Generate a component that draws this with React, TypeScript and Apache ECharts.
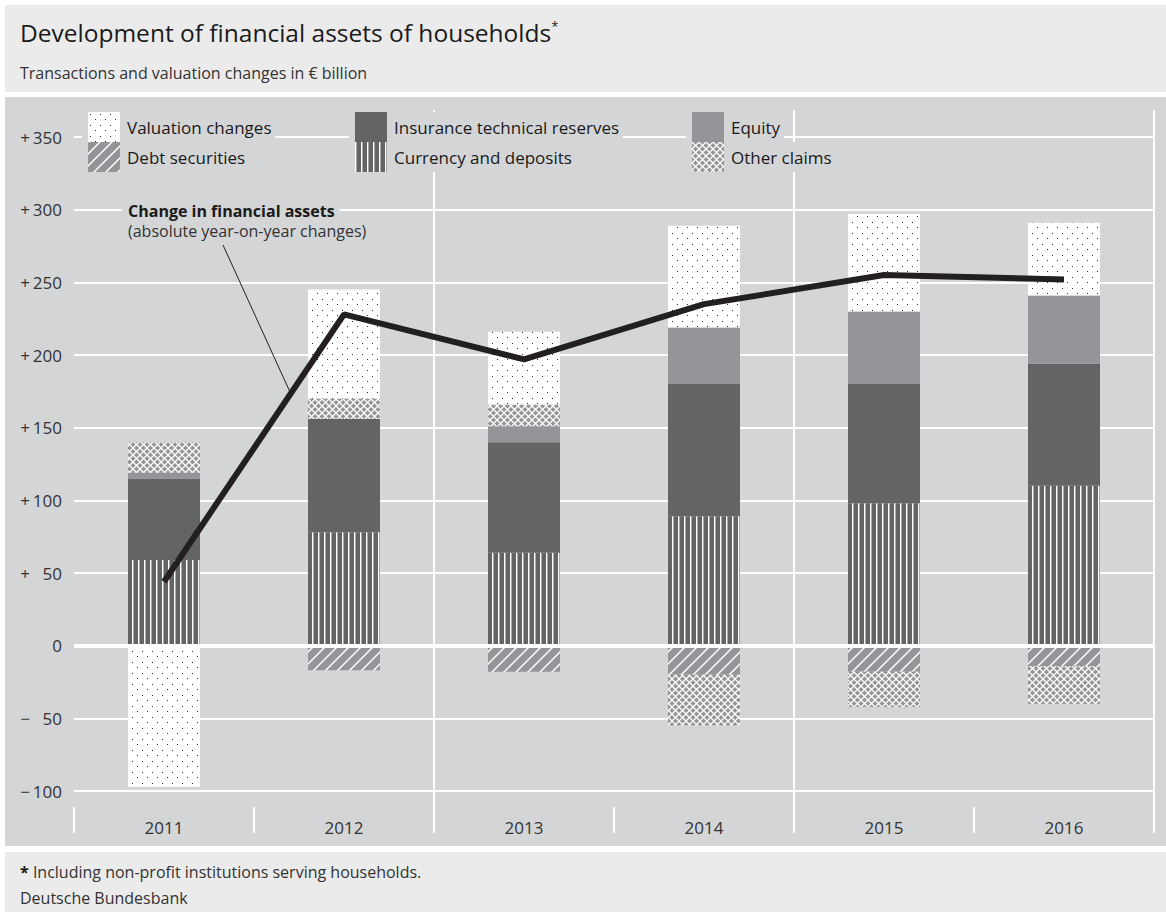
import React, { useEffect, useRef } from 'react';
import * as echarts from 'echarts';

// ---------- data ----------
const years = ['2011', '2012', '2013', '2014', '2015', '2016'];
const currencyDeposits = [59, 78, 64, 89, 98, 110];
const debtSecurities = [0, -17, -18, -20, -18, -14];
const insuranceReserves = [56, 78, 76, 91, 82, 84];
const equity = [4, 0, 11, 39, 50, 47];
const otherClaims = [21, 14, 15, -35, -24, -26];
const valuationChanges = [-97, 75, 50, 70, 67, 50];
const changeInFinancialAssets = [44, 228, 197, 235, 255, 252];
const yMin = -100;
const yMax = 350;
const yInterval = 50;

const FONT = '"Open Sans", "Noto Sans", sans-serif';
const PANEL = '#d4d5d7';
const LIGHT = '#ebebec';
const DARK = '#636466';
const MID = '#949599';

function makePattern(w: number, h: number, draw: (ctx: CanvasRenderingContext2D) => void) {
  const c = document.createElement('canvas');
  c.width = w;
  c.height = h;
  const ctx = c.getContext('2d') as CanvasRenderingContext2D;
  draw(ctx);
  return { image: c, repeat: 'repeat', imageWidth: w, imageHeight: h } as any;
}

function formatY(v: number) {
  if (v === 0) return '0';
  const a = Math.abs(v);
  const sign = v > 0 ? '+' : '\u2212';
  return sign + '\u2009' + (a < 100 ? '\u2007' : '') + a;
}

export default function App() {
  const ref = useRef<HTMLDivElement>(null);

  useEffect(() => {
    if (!ref.current) return;
    const chart = echarts.init(ref.current, null, { renderer: 'svg', width: 1166, height: 916 });

    const dots = makePattern(10, 11, (ctx) => {
      ctx.fillStyle = '#ffffff';
      ctx.fillRect(0, 0, 10, 11);
      ctx.fillStyle = '#2a2a2a';
      ctx.fillRect(2, 2, 1, 1);
      ctx.fillRect(7, 7, 1, 1);
    });
    const stripes = makePattern(6, 4, (ctx) => {
      ctx.fillStyle = DARK;
      ctx.fillRect(0, 0, 6, 4);
      ctx.fillStyle = '#ffffff';
      ctx.fillRect(0, 0, 1, 4);
      ctx.fillStyle = '#a8a8aa';
      ctx.fillRect(1, 0, 1, 4);
    });
    const diag = makePattern(12, 12, (ctx) => {
      ctx.fillStyle = MID;
      ctx.fillRect(0, 0, 12, 12);
      ctx.strokeStyle = '#ffffff';
      ctx.lineWidth = 1.5;
      ctx.beginPath();
      ctx.moveTo(-2, 14);
      ctx.lineTo(14, -2);
      ctx.moveTo(-2, 2);
      ctx.lineTo(2, -2);
      ctx.moveTo(10, 14);
      ctx.lineTo(14, 10);
      ctx.stroke();
    });
    const lattice = makePattern(7, 7, (ctx) => {
      ctx.fillStyle = MID;
      ctx.fillRect(0, 0, 7, 7);
      ctx.strokeStyle = '#ffffff';
      ctx.lineWidth = 1.3;
      ctx.beginPath();
      ctx.moveTo(-1, -1);
      ctx.lineTo(8, 8);
      ctx.moveTo(-1, 8);
      ctx.lineTo(8, -1);
      ctx.stroke();
    });

    const barBase = {
      type: 'bar',
      stack: 'total',
      barWidth: 72,
      xAxisIndex: 0,
      yAxisIndex: 0,
      emphasis: { disabled: true },
    };

    const legendItem = (name: string, left: number, top: number) => ({
      data: [name],
      left,
      top,
      orient: 'vertical',
      icon: 'rect',
      itemWidth: 32,
      itemHeight: 30,
      itemGap: 0,
      selectedMode: false,
      backgroundColor: PANEL,
      padding: [0, 4, 0, 6],
      textStyle: { fontSize: 17, color: '#1a1a1a', fontFamily: FONT, padding: [0, 0, 0, 2] },
    });

    const option: any = {
      animation: false,
      textStyle: { fontFamily: FONT },
      grid: [
        { left: 74, right: 12, top: 137, bottom: 125 },
        { left: 74, right: 12, top: 110, bottom: 83 },
      ],
      xAxis: [
        { type: 'category', data: years, gridIndex: 0, show: false },
        {
          type: 'category',
          data: years,
          gridIndex: 1,
          axisLine: { show: false },
          axisTick: { show: true, inside: true, length: 26, interval: 0, lineStyle: { color: '#ffffff', width: 2 } },
          splitLine: {
            show: true,
            interval: (i: number) => i === 2 || i === 4,
            lineStyle: { color: '#ffffff', width: 2 },
          },
          axisLabel: { margin: -6, verticalAlign: 'middle', fontSize: 17, color: '#333333', fontFamily: FONT },
        },
      ],
      yAxis: [
        {
          type: 'value',
          gridIndex: 0,
          min: yMin,
          max: yMax,
          interval: yInterval,
          axisLine: { show: false },
          axisTick: { show: false },
          splitLine: { show: true, lineStyle: { color: '#ffffff', width: 2 } },
          axisLabel: { formatter: formatY, fontSize: 17, color: '#333333', margin: 12, fontFamily: FONT },
        },
        { type: 'value', gridIndex: 1, min: 0, max: 1, show: false },
      ],
      legend: [
        legendItem('Valuation changes', 82, 112),
        legendItem('Debt securities', 82, 142),
        legendItem('Insurance technical reserves', 349, 112),
        legendItem('Currency and deposits', 349, 142),
        legendItem('Equity', 686, 112),
        legendItem('Other claims', 686, 142),
      ],
      series: [
        { ...barBase, name: 'Currency and deposits', data: currencyDeposits, itemStyle: { color: stripes } },
        { ...barBase, name: 'Debt securities', data: debtSecurities, itemStyle: { color: diag } },
        { ...barBase, name: 'Insurance technical reserves', data: insuranceReserves, itemStyle: { color: DARK } },
        { ...barBase, name: 'Equity', data: equity, itemStyle: { color: MID } },
        { ...barBase, name: 'Other claims', data: otherClaims, itemStyle: { color: lattice } },
        { ...barBase, name: 'Valuation changes', data: valuationChanges, itemStyle: { color: dots } },
        {
          type: 'line',
          name: 'Change in financial assets',
          data: changeInFinancialAssets,
          xAxisIndex: 0,
          yAxisIndex: 0,
          symbol: 'none',
          z: 5,
          lineStyle: { color: '#231f20', width: 6 },
          emphasis: { disabled: true },
          markLine: {
            silent: true,
            symbol: 'none',
            label: { show: false },
            lineStyle: { color: '#ffffff', width: 4, type: 'solid' },
            data: [{ yAxis: 0 }],
          },
        },
      ],
      graphic: [
        { type: 'rect', z: -10, shape: { x: 5, y: 5, width: 1161, height: 87 }, style: { fill: LIGHT } },
        { type: 'rect', z: -10, shape: { x: 5, y: 97, width: 1161, height: 749 }, style: { fill: PANEL } },
        { type: 'rect', z: -10, shape: { x: 5, y: 852, width: 1161, height: 60 }, style: { fill: LIGHT } },
        {
          type: 'text',
          x: 20,
          y: 32,
          style: {
            text: '{a|Development of financial assets of households}{b|*}',
            align: 'left',
            verticalAlign: 'middle',
            rich: {
              a: { fontSize: 24.5, fontFamily: FONT, fill: '#1a1a1a', color: '#1a1a1a' },
              b: { fontSize: 13, fontFamily: FONT, fill: '#1a1a1a', color: '#1a1a1a', verticalAlign: 'top' },
            },
          },
        },
        {
          type: 'text',
          x: 20,
          y: 73,
          style: { text: 'Transactions and valuation changes in \u20ac billion', fontSize: 16, fontFamily: FONT, fill: '#333333', align: 'left', verticalAlign: 'middle' },
        },
        {
          type: 'text',
          x: 20,
          y: 872,
          style: {
            text: '{b|*} Including non-profit institutions serving households.',
            fontSize: 16,
            fontFamily: FONT,
            fill: '#333333',
            align: 'left',
            verticalAlign: 'middle',
            rich: { b: { fontSize: 16, fontWeight: 'bold', fontFamily: FONT, fill: '#1a1a1a', color: '#1a1a1a' } },
          },
        },
        {
          type: 'text',
          x: 20,
          y: 898,
          style: { text: 'Deutsche Bundesbank', fontSize: 16, fontFamily: FONT, fill: '#333333', align: 'left', verticalAlign: 'middle' },
        },
        {
          type: 'text',
          x: 122,
          y: 211,
          z: 10,
          style: {
            text: 'Change in financial assets',
            fontSize: 16,
            fontWeight: 'bold',
            fontFamily: FONT,
            fill: '#1a1a1a',
            align: 'left',
            verticalAlign: 'middle',
            backgroundColor: PANEL,
            padding: [1, 5, 1, 6],
          },
        },
        {
          type: 'text',
          x: 128,
          y: 231,
          z: 10,
          style: { text: '(absolute year-on-year changes)', fontSize: 16, fontFamily: FONT, fill: '#333333', align: 'left', verticalAlign: 'middle' },
        },
        {
          type: 'line',
          z: 10,
          shape: { x1: 223, y1: 245, x2: 290, y2: 392 },
          style: { stroke: '#231f20', lineWidth: 1 },
        },
      ],
    };

    chart.setOption(option);
    return () => chart.dispose();
  }, []);

  return (
    <div
      ref={ref}
      style={{ position: 'absolute', left: 0, top: 0, width: 1166, height: 916, background: '#ffffff' }}
    />
  );
}
